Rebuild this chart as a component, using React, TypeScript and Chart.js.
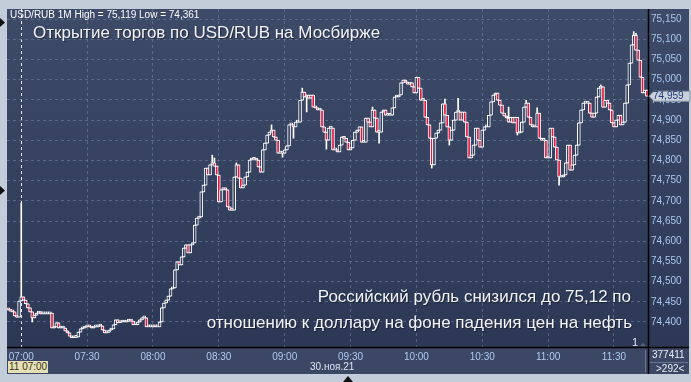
import React, { useEffect, useRef } from 'react';
import { Chart, registerables } from 'chart.js';

Chart.register(...registerables);

// 1-minute candles, first bar at 06:54
const START_HOUR = 6;
const START_MIN = 54;
const FIRST_OPEN = 74.432;

const closes: number[] = [
  74.430, 74.427, 74.425, 74.415, 74.412, 74.452, 74.462, 74.454, 74.445, 74.435,
  74.425, 74.410, 74.417, 74.422, 74.425, 74.420, 74.420, 74.420, 74.420, 74.422,
  74.385, 74.388, 74.398, 74.385, 74.385, 74.385, 74.378, 74.373, 74.365, 74.361,
  74.362, 74.363, 74.375, 74.383, 74.385, 74.388, 74.390, 74.388, 74.385, 74.388,
  74.388, 74.390, 74.390, 74.380, 74.373, 74.375, 74.380, 74.383, 74.393, 74.405,
  74.398, 74.400, 74.402, 74.400, 74.402, 74.405, 74.402, 74.393, 74.393, 74.400,
  74.405, 74.410, 74.410, 74.388, 74.388, 74.388, 74.390, 74.388, 74.388, 74.400,
  74.435, 74.447, 74.454, 74.464, 74.482, 74.484, 74.529, 74.549, 74.541, 74.561,
  74.583, 74.591, 74.571, 74.591, 74.596, 74.640, 74.657, 74.660, 74.722, 74.739,
  74.781, 74.764, 74.789, 74.794, 74.786, 74.764, 74.697, 74.727, 74.732, 74.727,
  74.685, 74.677, 74.677, 74.759, 74.789, 74.756, 74.732, 74.739, 74.759, 74.771,
  74.801, 74.803, 74.803, 74.801, 74.784, 74.771, 74.826, 74.843, 74.863, 74.870,
  74.875, 74.858, 74.850, 74.818, 74.818, 74.818, 74.826, 74.836, 74.888, 74.888,
  74.883, 74.895, 74.895, 74.949, 74.969, 74.957, 74.962, 74.954, 74.962, 74.932,
  74.930, 74.925, 74.925, 74.883, 74.870, 74.850, 74.880, 74.880, 74.826, 74.826,
  74.821, 74.838, 74.858, 74.855, 74.845, 74.826, 74.831, 74.850, 74.870, 74.875,
  74.883, 74.845, 74.845, 74.905, 74.895, 74.883, 74.925, 74.905, 74.870, 74.870,
  74.920, 74.925, 74.912, 74.912, 74.912, 74.930, 74.957, 74.957, 74.962, 74.992,
  74.999, 74.994, 74.989, 74.992, 74.982, 74.967, 75.006, 74.979, 74.949, 74.949,
  74.907, 74.888, 74.855, 74.789, 74.855, 74.868, 74.875, 74.893, 74.940, 74.912,
  74.883, 74.850, 74.875, 74.900, 74.920, 74.920, 74.900, 74.920, 74.895, 74.858,
  74.806, 74.813, 74.838, 74.880, 74.850, 74.833, 74.875, 74.883, 74.883, 74.912,
  74.945, 74.962, 74.967, 74.949, 74.937, 74.917, 74.910, 74.905, 74.895, 74.907,
  74.893, 74.907, 74.868, 74.870, 74.895, 74.932, 74.942, 74.907, 74.888, 74.883,
  74.883, 74.917, 74.855, 74.850, 74.850, 74.806, 74.806, 74.880, 74.858, 74.833,
  74.801, 74.759, 74.759, 74.764, 74.794, 74.838, 74.776, 74.789, 74.813, 74.838,
  74.893, 74.925, 74.942, 74.942, 74.942, 74.917, 74.907, 74.917, 74.957, 74.979,
  74.982, 74.932, 74.949, 74.942, 74.925, 74.893, 74.883, 74.900, 74.912, 74.888,
  74.895, 74.942, 74.987, 75.041, 75.086, 75.110, 75.073, 75.048, 75.006, 74.967,
  74.974, 74.959,
];

// [bar index, wick extreme]
const wickHighs: [number, number][] = [
  [6, 74.695], [93, 74.813], [94, 74.806], [104, 74.794], [120, 74.888],
  [134, 74.979], [166, 74.932], [199, 74.952], [205, 74.954], [228, 74.932],
  [236, 74.949], [241, 74.930], [270, 74.987], [285, 75.119], [286, 75.115],
];
const wickLows: [number, number][] = [
  [11, 74.400], [125, 74.808], [130, 74.855], [136, 74.920], [145, 74.828],
  [169, 74.843], [193, 74.781], [201, 74.838], [232, 74.863], [251, 74.739],
];

const yTicks: number[] = [
  74.40, 74.45, 74.50, 74.55, 74.60, 74.65, 74.70, 74.75,
  74.80, 74.85, 74.90, 74.95, 75.00, 75.05, 75.10, 75.15,
];
const Y_MIN = 74.338;
const Y_MAX = 75.175;

const FONT = '"Liberation Sans", Arial, sans-serif';

const pad2 = (n: number) => (n < 10 ? '0' + n : '' + n);
const minuteOf = (i: number) => START_HOUR * 60 + START_MIN + i;
const labels: string[] = closes.map((_, i) => {
  const m = minuteOf(i);
  return pad2(Math.floor(m / 60)) + ':' + pad2(m % 60);
});
const fmt = (v: number) => v.toFixed(3).replace('.', ',');

const opens = closes.map((c, i) => (i === 0 ? FIRST_OPEN : closes[i - 1]));
const highs = closes.map((c, i) => Math.max(c, opens[i]));
const lows = closes.map((c, i) => Math.min(c, opens[i]));
wickHighs.forEach(([i, v]) => { highs[i] = Math.max(highs[i], v); });
wickLows.forEach(([i, v]) => { lows[i] = Math.min(lows[i], v); });
const hiMax = Math.max(...highs);
const loMin = Math.min(...lows);

const framePlugin = {
  id: 'frame',
  beforeDraw(chart: any) {
    const { ctx, chartArea: a } = chart;
    ctx.save();
    ctx.fillStyle = '#c3ccd9';
    ctx.fillRect(0, 0, chart.width, chart.height);
    const g = ctx.createLinearGradient(0, a.top, 0, a.bottom);
    g.addColorStop(0, '#3d4a68');
    g.addColorStop(1, '#2c3856');
    ctx.fillStyle = g;
    ctx.fillRect(a.left, a.top, 689 - a.left, a.bottom - a.top);
    ctx.fillStyle = '#3b4765';
    ctx.fillRect(a.left, a.bottom, 689 - a.left, 374 - a.bottom);
    ctx.restore();
  },
  afterDraw(chart: any) {
    const { ctx, chartArea: a } = chart;
    ctx.save();
    ctx.strokeStyle = '#000000';
    ctx.lineWidth = 1.5;
    ctx.beginPath();
    ctx.moveTo(a.right + 0.5, a.top);
    ctx.lineTo(a.right + 0.5, 374);
    ctx.moveTo(a.left, a.bottom + 0.5);
    ctx.lineTo(689, a.bottom + 0.5);
    ctx.stroke();
    // separators in the axis corner
    ctx.lineWidth = 1;
    ctx.strokeStyle = '#6a7690';
    ctx.beginPath();
    ctx.moveTo(645.5, a.bottom + 3);
    ctx.lineTo(645.5, 372);
    ctx.moveTo(650, 362.5);
    ctx.lineTo(688, 362.5);
    ctx.stroke();
    // price tag
    const y = chart.scales.y.getPixelForValue(closes[closes.length - 1]);
    ctx.fillStyle = '#c9d0da';
    ctx.strokeStyle = '#8a96a8';
    ctx.beginPath();
    ctx.moveTo(649, y);
    ctx.lineTo(654, y - 5);
    ctx.lineTo(690, y - 5);
    ctx.lineTo(690, y + 5);
    ctx.lineTo(654, y + 5);
    ctx.closePath();
    ctx.fill();
    ctx.stroke();
    ctx.fillStyle = '#1d3a78';
    ctx.font = '10px ' + FONT;
    ctx.textBaseline = 'middle';
    ctx.textAlign = 'left';
    ctx.fillText(fmt(closes[closes.length - 1]), 653, y + 0.5);
    // frame markers
    ctx.fillStyle = '#111111';
    ctx.beginPath();
    ctx.moveTo(0, 18); ctx.lineTo(5, 22.5); ctx.lineTo(0, 27); ctx.closePath();
    ctx.moveTo(0, 186); ctx.lineTo(5, 190.5); ctx.lineTo(0, 195); ctx.closePath();
    ctx.moveTo(343, 382); ctx.lineTo(348, 376); ctx.lineTo(353, 382); ctx.closePath();
    ctx.fill();
    ctx.fillStyle = '#56627c';
    ctx.beginPath();
    ctx.moveTo(640, 346); ctx.lineTo(643, 343); ctx.lineTo(646, 346); ctx.closePath();
    ctx.fill();
    ctx.restore();
  },
};

export default function App() {
  const ref = useRef<HTMLCanvasElement | null>(null);

  useEffect(() => {
    document.body.style.margin = '0';
    if (!ref.current) return;
    const bodyData = closes.map((c, i) => [Math.min(c, opens[i]), Math.max(c, opens[i])]);
    const bodyColors = closes.map((c, i) => (c < opens[i] ? '#e4163e' : '#33405e'));
    const wickData = lows.map((l, i) => [l, highs[i]]);
    const chart = new Chart(ref.current, {
      type: 'bar',
      data: {
        labels,
        datasets: [
          {
            label: 'body',
            data: bodyData as any,
            backgroundColor: bodyColors,
            borderColor: '#ffffff',
            borderWidth: 1,
            borderSkipped: false,
            barThickness: 3,
            minBarLength: 2,
            grouped: false,
            order: 0,
          } as any,
          {
            label: 'wick',
            data: wickData as any,
            backgroundColor: '#ffffff',
            borderWidth: 0,
            barThickness: 1,
            grouped: false,
            order: 1,
          } as any,
        ],
      },
      options: {
        responsive: false,
        animation: false,
        events: [],
        layout: { padding: { left: 7, top: 9, right: 0, bottom: 8 } },
        plugins: {
          legend: { display: false },
          tooltip: { enabled: false },
          title: { display: false },
        },
        scales: {
          x: {
            type: 'category',
            offset: true,
            grid: {
              offset: false,
              drawTicks: false,
              lineWidth: 1,
              color: (c: any) =>
                c.tick && labels[c.tick.value] === '07:00'
                  ? 'rgba(255,255,255,0.9)'
                  : 'rgba(112,128,158,0.6)',
            },
            border: { display: false, dash: [3, 3] },
            ticks: {
              autoSkip: false,
              maxRotation: 0,
              minRotation: 0,
              padding: 4,
              color: '#b0cbef',
              font: { family: FONT, size: 10 },
            },
            afterBuildTicks: (axis: any) => {
              axis.ticks = axis.ticks.filter((t: any) => minuteOf(t.value) % 30 === 0);
            },
            afterFit: (axis: any) => {
              axis.height = 27;
            },
          } as any,
          y: {
            position: 'right',
            min: Y_MIN,
            max: Y_MAX,
            grid: { drawTicks: false, lineWidth: 1, color: 'rgba(112,128,158,0.6)' },
            border: { display: false, dash: [3, 3] },
            ticks: {
              padding: 3,
              color: '#a9c6ee',
              font: { family: FONT, size: 10 },
              callback: (v: any) => fmt(Number(v)),
            },
            afterBuildTicks: (axis: any) => {
              axis.ticks = yTicks.map((v) => ({ value: v }));
            },
            afterFit: (axis: any) => {
              axis.width = 43;
            },
          } as any,
        },
      },
      plugins: [framePlugin],
    });
    return () => chart.destroy();
  }, []);

  const txt = (extra: React.CSSProperties): React.CSSProperties => ({
    position: 'absolute',
    fontFamily: FONT,
    whiteSpace: 'nowrap',
    lineHeight: 1,
    ...extra,
  });
  const big: React.CSSProperties = {
    fontSize: 17,
    color: '#f2f4f8',
    textShadow: '1px 1px 1px rgba(0,0,0,0.45)',
  };

  return (
    <div style={{ position: 'absolute', left: 0, top: 0, width: 691, height: 382, overflow: 'hidden' }}>
      <canvas ref={ref} width={691} height={382} style={{ display: 'block', width: 691, height: 382 }} />
      <div style={txt({ left: 10, top: 10, fontSize: 10, color: '#ffffff' })}>
        {'USD/RUB 1M High = ' + fmt(hiMax) + ' Low = ' + fmt(loMin)}
      </div>
      <div style={txt({ left: 33, top: 24, ...big })}>Открытие торгов по USD/RUB на Мосбирже</div>
      <div style={txt({ right: 60, top: 288, ...big })}>Российский рубль снизился до 75,12 по</div>
      <div style={txt({ right: 59, top: 314, ...big })}>отношению к доллару на фоне падения цен на нефть</div>
      <div style={txt({ left: 632, top: 337, fontSize: 11, color: '#e2e8f2' })}>1</div>
      <div
        style={txt({
          left: 8, top: 361, width: 40, height: 12, fontSize: 10, lineHeight: '12px',
          background: '#e6e0b6', color: '#3a3318', paddingLeft: 1, boxSizing: 'border-box',
        })}
      >
        11 07:00
      </div>
      <div style={txt({ left: 310, top: 362, fontSize: 10, color: '#dfe6f2' })}>30.ноя.21</div>
      <div style={txt({ left: 652, top: 350, fontSize: 10, color: '#e8eef8' })}>377411</div>
      <div style={txt({ left: 656, top: 364, fontSize: 10, color: '#e8eef8' })}>&gt;292&lt;</div>
    </div>
  );
}
